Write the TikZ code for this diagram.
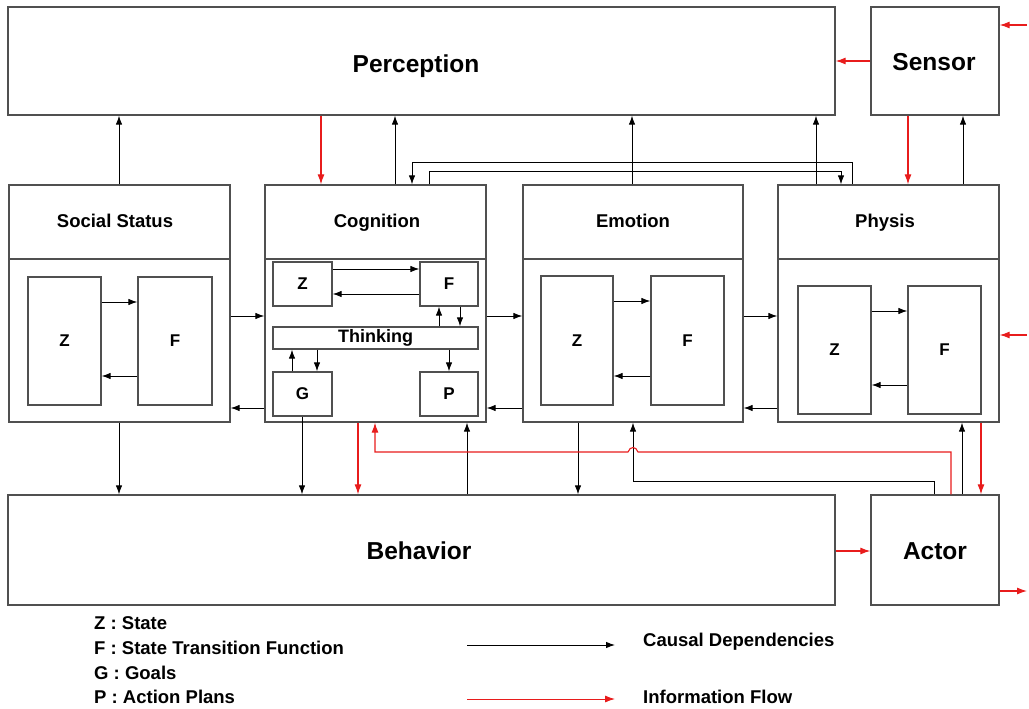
\documentclass[tikz,border=0pt]{standalone}
\usepackage{fontspec}
\setmainfont{Liberation Sans}
\usetikzlibrary{arrows.meta}
\definecolor{infored}{RGB}{232,28,28}
\definecolor{frame}{RGB}{80,80,80}
\tikzset{
  box/.style={draw=frame, line width=1.3pt, fill=white, inner sep=0pt},
  bigtitle/.style={font=\bfseries\fontsize{24.5}{28}\selectfont, anchor=base, inner sep=0pt},
  subtitle/.style={font=\bfseries\fontsize{18.5}{21}\selectfont, anchor=base, inner sep=0pt},
  thinktext/.style={font=\bfseries\fontsize{18}{21}\selectfont},
  letter/.style={font=\bfseries\fontsize{17}{20}\selectfont},
  legendtext/.style={font=\bfseries\fontsize{18.5}{21}\selectfont, anchor=west, inner sep=0pt},
  cd/.style={draw=black, line width=0.9pt, -{Latex[length=9pt,width=6.5pt]}},
  info/.style={draw=infored, line width=1.1pt, -{Latex[length=10pt,width=7pt]}},
}
\begin{document}
\begin{tikzpicture}[x=1pt, y=-1pt]
\useasboundingbox (0,0) rectangle (1029,709);

% ---- outer blocks ----
\node[box, minimum width=827, minimum height=108] (per) at (421.5,61) {};
\node[bigtitle] at (416,73) {Perception};
\node[box, minimum width=128, minimum height=108] (sen) at (935,61) {};
\node[bigtitle] at (934,71) {Sensor};
\node[box, minimum width=827, minimum height=110] (beh) at (421.5,550) {};
\node[bigtitle] at (419,559) {Behavior};
\node[box, minimum width=128, minimum height=110] (act) at (935,550) {};
\node[bigtitle] at (935,559) {Actor};

% ---- the four subsystems ----
\node[box, minimum width=221, minimum height=237] (soc) at (119.5,303.5) {};
\node[box, minimum width=221, minimum height=237] (cog) at (375.5,303.5) {};
\node[box, minimum width=220, minimum height=237] (emo) at (633,303.5) {};
\node[box, minimum width=221, minimum height=237] (phy) at (888.5,303.5) {};
\foreach \n in {soc, cog, emo, phy}{
  \draw[frame, line width=1.3pt] (\n.west |- 0,259) -- (\n.east |- 0,259);
}
\node[subtitle] at (115,227) {Social Status};
\node[subtitle] at (377,227) {Cognition};
\node[subtitle] at (633,227) {Emotion};
\node[subtitle] at (885,227) {Physis};

% ---- state / transition pairs ----
\node[box, minimum width=73, minimum height=128, letter] (socZ) at (64.5,341) {Z};
\node[box, minimum width=74, minimum height=128, letter] (socF) at (175,341) {F};
\draw[cd] (socZ.east |- 0,302) -- (socF.west |- 0,302);
\draw[cd] (socF.west |- 0,376) -- (socZ.east |- 0,376);

\node[box, minimum width=72, minimum height=129, letter] (emoZ) at (577,340.5) {Z};
\node[box, minimum width=73, minimum height=129, letter] (emoF) at (687.5,340.5) {F};
\draw[cd] (emoZ.east |- 0,301) -- (emoF.west |- 0,301);
\draw[cd] (emoF.west |- 0,376) -- (emoZ.east |- 0,376);

\node[box, minimum width=73, minimum height=128, letter] (phyZ) at (834.5,350) {Z};
\node[box, minimum width=73, minimum height=128, letter] (phyF) at (944.5,350) {F};
\draw[cd] (phyZ.east |- 0,311) -- (phyF.west |- 0,311);
\draw[cd] (phyF.west |- 0,385) -- (phyZ.east |- 0,385);

% ---- cognition internals ----
\node[box, minimum width=59, minimum height=44, letter] (cogZ) at (302.5,284) {Z};
\node[box, minimum width=58, minimum height=44, letter] (cogF) at (449,284) {F};
\node[box, minimum width=205, minimum height=22, thinktext] (think) at (375.5,338) {Thinking};
\node[box, minimum width=59, minimum height=44, letter] (cogG) at (302.5,394) {G};
\node[box, minimum width=58, minimum height=44, letter] (cogP) at (449,394) {P};
\draw[cd] (cogZ.east |- 0,269) -- (cogF.west |- 0,269);
\draw[cd] (cogF.west |- 0,294) -- (cogZ.east |- 0,294);
\draw[cd] (think.north -| 439,0) -- (cogF.south -| 439,0);
\draw[cd] (cogF.south -| 460,0) -- (think.north -| 460,0);
\draw[cd] (cogG.north -| 292,0) -- (think.south -| 292,0);
\draw[cd] (think.south -| 317,0) -- (cogG.north -| 317,0);
\draw[cd] (think.south -| 449,0) -- (cogP.north -| 449,0);

% ---- links between subsystems ----
\draw[cd] (soc.east |- 0,316) -- (cog.west |- 0,316);
\draw[cd] (cog.west |- 0,408) -- (soc.east |- 0,408);
\draw[cd] (cog.east |- 0,316) -- (emo.west |- 0,316);
\draw[cd] (emo.west |- 0,408) -- (cog.east |- 0,408);
\draw[cd] (emo.east |- 0,316) -- (phy.west |- 0,316);
\draw[cd] (phy.west |- 0,408) -- (emo.east |- 0,408);

% ---- upward to perception / sensor ----
\draw[cd] (soc.north -| 119,0) -- (per.south -| 119,0);
\draw[info] (per.south -| 321,0) -- (cog.north -| 321,0);
\draw[cd] (cog.north -| 395,0) -- (per.south -| 395,0);
\draw[cd] (emo.north -| 632,0) -- (per.south -| 632,0);
\draw[cd] (phy.north -| 816,0) -- (per.south -| 816,0);
\draw[info] (sen.south -| 908,0) -- (phy.north -| 908,0);
\draw[cd] (phy.north -| 963,0) -- (sen.south -| 963,0);
\draw[info] (sen.west |- 0,61) -- (per.east |- 0,61);

% cognition <-> physis loops
\draw[cd] (phy.north -| 852,0) |- (412,162) -- (cog.north -| 412,0);
\draw[cd] (cog.north -| 429,0) |- (841,171) -- (phy.north -| 841,0);

% ---- external inputs / outputs ----
\coordinate (inS) at (1027,25);
\coordinate (inP) at (1027,335);
\coordinate (outA) at (1027,591);
\draw[info] (inS) -- (sen.east |- inS);
\draw[info] (inP) -- (phy.east |- inP);
\draw[info] (act.east |- outA) -- (outA);

% ---- downward to behavior / actor ----
\draw[cd] (soc.south -| 119,0) -- (beh.north -| 119,0);
\draw[cd] (cogG.south -| 302,0) -- (beh.north -| 302,0);
\draw[info] (cog.south -| 358,0) -- (beh.north -| 358,0);
\draw[cd] (beh.north -| 467,0) -- (cog.south -| 467,0);
\draw[cd] (emo.south -| 578,0) -- (beh.north -| 578,0);
\draw[info] (beh.east |- 0,551) -- (act.west |- 0,551);
\draw[cd] (act.north -| 934,0) |- (633,481) -- (emo.south -| 633,0);
\draw[info] (act.north -| 951,0) -- (951,452) -- (638,452)
  .. controls (636,446) and (630,446) .. (628,452) -- (375,452) -- (cog.south -| 375,0);
\draw[cd] (act.north -| 962,0) -- (phy.south -| 962,0);
\draw[info] (phy.south -| 981,0) -- (act.north -| 981,0);

% ---- legend ----
\node[legendtext] (lz) at (94,623) {Z : State};
\node[legendtext] (lf) at (94,648) {F : State Transition Function};
\node[legendtext] (lg) at (94,673) {G : Goals};
\node[legendtext] (lp) at (94,697) {P : Action Plans};
\coordinate (cdA) at (467,645);
\coordinate (cdB) at (615,645);
\coordinate (ifA) at (467,699);
\coordinate (ifB) at (615,699);
\draw[cd] (cdA) -- (cdB);
\draw[info, line width=0.9pt] (ifA) -- (ifB);
\node[legendtext] (lcd) at (643,642) {Causal Dependencies};
\node[legendtext] (lif) at (643,697) {Information Flow};
\end{tikzpicture}
\end{document}
